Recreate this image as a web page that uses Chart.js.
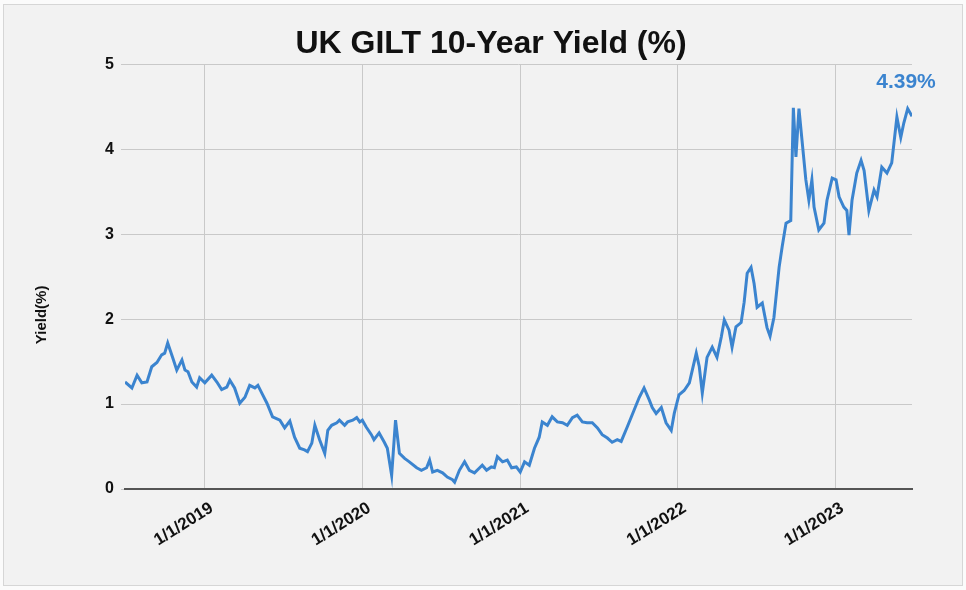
<!DOCTYPE html>
<html>
<head>
<meta charset="utf-8">
<title>UK GILT 10-Year Yield</title>
<script src="https://cdn.jsdelivr.net/npm/chart.js@4.4.1/dist/chart.umd.min.js"></script>
<style>
    html, body { margin: 0; padding: 0; background: #fbfbfb; }
    .frame {
        position: absolute; left: 3px; top: 4px; width: 958px; height: 580px;
        background: #f2f2f2; border: 1px solid #d6d6d6;
    }
    #yieldChart { position: absolute; left: 0; top: 0; }
</style>
</head>
<body>
<div class="frame"></div>
<canvas id="yieldChart" width="966" height="590"></canvas>
<script>
// Weekly-ish readings of the 10y gilt yield (%)
const dates = [
    '2018-06-30', '2018-07-16', '2018-07-28', '2018-08-08', '2018-08-20', '2018-08-31', '2018-09-12', '2018-09-23',
    '2018-09-30', '2018-10-07', '2018-10-19', '2018-10-28', '2018-11-09', '2018-11-16', '2018-11-23', '2018-12-02',
    '2018-12-13', '2018-12-20', '2019-01-01', '2019-01-17', '2019-01-29', '2019-02-09', '2019-02-21', '2019-02-28',
    '2019-03-11', '2019-03-23', '2019-04-04', '2019-04-15', '2019-04-27', '2019-05-04', '2019-05-14', '2019-05-25',
    '2019-06-07', '2019-06-24', '2019-07-05', '2019-07-17', '2019-07-28', '2019-08-09', '2019-08-20', '2019-08-27',
    '2019-09-06', '2019-09-13', '2019-09-24', '2019-10-06', '2019-10-13', '2019-10-22', '2019-11-03', '2019-11-09',
    '2019-11-21', '2019-11-28', '2019-12-10', '2019-12-19', '2019-12-26', '2020-01-01', '2020-01-10', '2020-01-22',
    '2020-01-28', '2020-02-09', '2020-02-21', '2020-02-28', '2020-03-09', '2020-03-18', '2020-03-27', '2020-04-08',
    '2020-04-19', '2020-05-06', '2020-05-17', '2020-05-29', '2020-06-05', '2020-06-12', '2020-06-23', '2020-07-05',
    '2020-07-16', '2020-07-28', '2020-08-02', '2020-08-13', '2020-08-25', '2020-09-05', '2020-09-17', '2020-09-29',
    '2020-10-05', '2020-10-15', '2020-10-26', '2020-11-02', '2020-11-09', '2020-11-21', '2020-12-02', '2020-12-12',
    '2020-12-23', '2021-01-01', '2021-01-11', '2021-01-22', '2021-02-03', '2021-02-14', '2021-02-21', '2021-03-05',
    '2021-03-16', '2021-03-28', '2021-04-09', '2021-04-20', '2021-05-02', '2021-05-13', '2021-05-25', '2021-06-05',
    '2021-06-17', '2021-06-29', '2021-07-10', '2021-07-22', '2021-08-02', '2021-08-14', '2021-08-23', '2021-09-06',
    '2021-09-22', '2021-10-04', '2021-10-15', '2021-10-27', '2021-11-03', '2021-11-12', '2021-11-24', '2021-12-05',
    '2021-12-17', '2021-12-24', '2022-01-04', '2022-01-16', '2022-01-28', '2022-02-13', '2022-02-20', '2022-02-27',
    '2022-03-10', '2022-03-22', '2022-04-02', '2022-04-12', '2022-04-19', '2022-04-30', '2022-05-07', '2022-05-16',
    '2022-05-28', '2022-06-04', '2022-06-11', '2022-06-20', '2022-06-27', '2022-07-04', '2022-07-16', '2022-07-27',
    '2022-08-03', '2022-08-12', '2022-08-24', '2022-08-31', '2022-09-09', '2022-09-20', '2022-09-26', '2022-10-02',
    '2022-10-09', '2022-10-16', '2022-10-25', '2022-11-01', '2022-11-08', '2022-11-13', '2022-11-24', '2022-12-06',
    '2022-12-13', '2022-12-25', '2023-01-03', '2023-01-10', '2023-01-21', '2023-01-28', '2023-02-02', '2023-02-09',
    '2023-02-20', '2023-03-02', '2023-03-09', '2023-03-20', '2023-04-01', '2023-04-08', '2023-04-19', '2023-05-01',
    '2023-05-12', '2023-05-24', '2023-06-02', '2023-06-09', '2023-06-18', '2023-06-28'
];

const yields = [
    1.26, 1.19, 1.34, 1.25, 1.26, 1.44, 1.49, 1.58,
    1.60, 1.72, 1.54, 1.40, 1.52, 1.40, 1.38, 1.26,
    1.20, 1.31, 1.25, 1.34, 1.26, 1.17, 1.20, 1.28,
    1.19, 1.01, 1.08, 1.22, 1.19, 1.22, 1.12, 1.01,
    0.85, 0.81, 0.72, 0.80, 0.61, 0.48, 0.46, 0.44,
    0.54, 0.75, 0.58, 0.42, 0.69, 0.75, 0.78, 0.81,
    0.75, 0.79, 0.81, 0.84, 0.79, 0.81, 0.73, 0.64,
    0.58, 0.66, 0.55, 0.48, 0.16, 0.81, 0.42, 0.36,
    0.32, 0.25, 0.22, 0.25, 0.34, 0.20, 0.22, 0.19,
    0.14, 0.11, 0.08, 0.22, 0.32, 0.22, 0.19, 0.25,
    0.28, 0.22, 0.26, 0.25, 0.38, 0.32, 0.34, 0.25,
    0.26, 0.20, 0.32, 0.28, 0.48, 0.61, 0.79, 0.75,
    0.85, 0.79, 0.78, 0.75, 0.84, 0.87, 0.79, 0.78,
    0.78, 0.72, 0.64, 0.60, 0.55, 0.58, 0.56, 0.73,
    0.93, 1.08, 1.19, 1.05, 0.96, 0.89, 0.96, 0.78,
    0.69, 0.89, 1.11, 1.16, 1.25, 1.60, 1.44, 1.13,
    1.55, 1.67, 1.55, 1.79, 1.99, 1.87, 1.67, 1.91,
    1.96, 2.20, 2.54, 2.61, 2.42, 2.14, 2.19, 1.90,
    1.80, 2.02, 2.61, 2.85, 3.13, 3.16, 4.49, 3.91,
    4.48, 4.11, 3.64, 3.40, 3.64, 3.32, 3.05, 3.13,
    3.40, 3.66, 3.64, 3.44, 3.32, 3.28, 2.99, 3.40,
    3.72, 3.87, 3.75, 3.28, 3.52, 3.44, 3.79, 3.72,
    3.84, 4.38, 4.14, 4.31, 4.48, 4.39
];

const tickDates = ['2019-01-01', '2020-01-01', '2021-01-01', '2022-01-01', '2023-01-01'];
const tickLabels = ['1/1/2019', '1/1/2020', '1/1/2021', '1/1/2022', '1/1/2023'];
const yTicks = [0, 1, 2, 3, 4, 5];

document.addEventListener('DOMContentLoaded', function () {

    const toTime = (s) => Date.parse(s + 'T00:00:00Z');
    const tickTimes = tickDates.map(toTime);
    const lineBlue = '#3b84cf';
    const fontFamily = "'Liberation Sans', Arial, sans-serif";

    // Label for the latest reading, above the last point
    const lastValueLabel = {
        id: 'lastValueLabel',
        afterDatasetsDraw: chart => {
            const meta = chart.getDatasetMeta(0);
            const pt = meta.data[meta.data.length - 1];
            const ctx = chart.ctx;
            ctx.save();
            ctx.font = 'bold 21px ' + fontFamily;
            ctx.fillStyle = lineBlue;
            ctx.textAlign = 'center';
            ctx.textBaseline = 'middle';
            ctx.fillText(yields[yields.length - 1].toFixed(2) + '%', pt.x - 6, pt.y - 34);
            ctx.restore();
        }
    };

    // Y axis caption sits a bit below the middle in the original
    const yCaption = {
        id: 'yCaption',
        afterDraw: chart => {
            const ctx = chart.ctx;
            const area = chart.chartArea;
            ctx.save();
            ctx.translate(42, area.top + (area.bottom - area.top) * 0.59);
            ctx.rotate(-Math.PI / 2);
            ctx.font = 'bold 15px ' + fontFamily;
            ctx.fillStyle = '#111';
            ctx.textAlign = 'center';
            ctx.textBaseline = 'middle';
            ctx.fillText('Yield(%)', 0, 0);
            ctx.restore();
        }
    };

    const ctx = document.getElementById('yieldChart').getContext('2d');

    new Chart(ctx, {
        type: 'line',
        data: {
            datasets: [{
                label: 'UK GILT 10-Year Yield',
                data: dates.map((d, i) => ({ x: toTime(d), y: yields[i] })),
                borderColor: lineBlue,
                borderWidth: 3,
                pointRadius: 0,
                tension: 0,
                fill: false
            }]
        },
        options: {
            responsive: false,
            animation: false,
            devicePixelRatio: 1,
            layout: {
                padding: { left: 70, right: 54, top: 0, bottom: 0 }
            },
            plugins: {
                legend: { display: false },
                tooltip: { enabled: false },
                title: {
                    display: true,
                    text: 'UK GILT 10-Year Yield (%)',
                    color: '#111',
                    font: { family: fontFamily, size: 32, weight: 'bold' },
                    padding: { top: 25, bottom: 1 }
                }
            },
            scales: {
                x: {
                    type: 'linear',
                    min: toTime(dates[0]),
                    max: toTime(dates[dates.length - 1]),
                    afterBuildTicks: scale => {
                        scale.ticks = tickTimes.map(v => ({ value: v }));
                    },
                    afterFit: scale => { scale.height = 101; },
                    grid: {
                        color: '#c9c9c9',
                        lineWidth: 1,
                        drawTicks: false
                    },
                    border: { display: true, color: '#555', width: 2 },
                    ticks: {
                        color: '#111',
                        font: { family: fontFamily, size: 17, weight: 'bold' },
                        minRotation: 32,
                        maxRotation: 32,
                        padding: 9,
                        labelOffset: 7,
                        autoSkip: false,
                        callback: function (value) {
                            const i = tickTimes.indexOf(value);
                            return i >= 0 ? tickLabels[i] : '';
                        }
                    }
                },
                y: {
                    min: yTicks[0],
                    max: yTicks[yTicks.length - 1],
                    afterBuildTicks: scale => {
                        scale.ticks = yTicks.map(v => ({ value: v }));
                    },
                    afterFit: scale => { scale.width = 55; },
                    grid: {
                        color: '#c9c9c9',
                        lineWidth: 1,
                        tickLength: 4
                    },
                    border: { display: false },
                    ticks: {
                        color: '#111',
                        font: { family: fontFamily, size: 16, weight: 'bold' },
                        padding: 7
                    }
                }
            }
        },
        plugins: [lastValueLabel, yCaption]
    });
});
</script>
</body>
</html>
